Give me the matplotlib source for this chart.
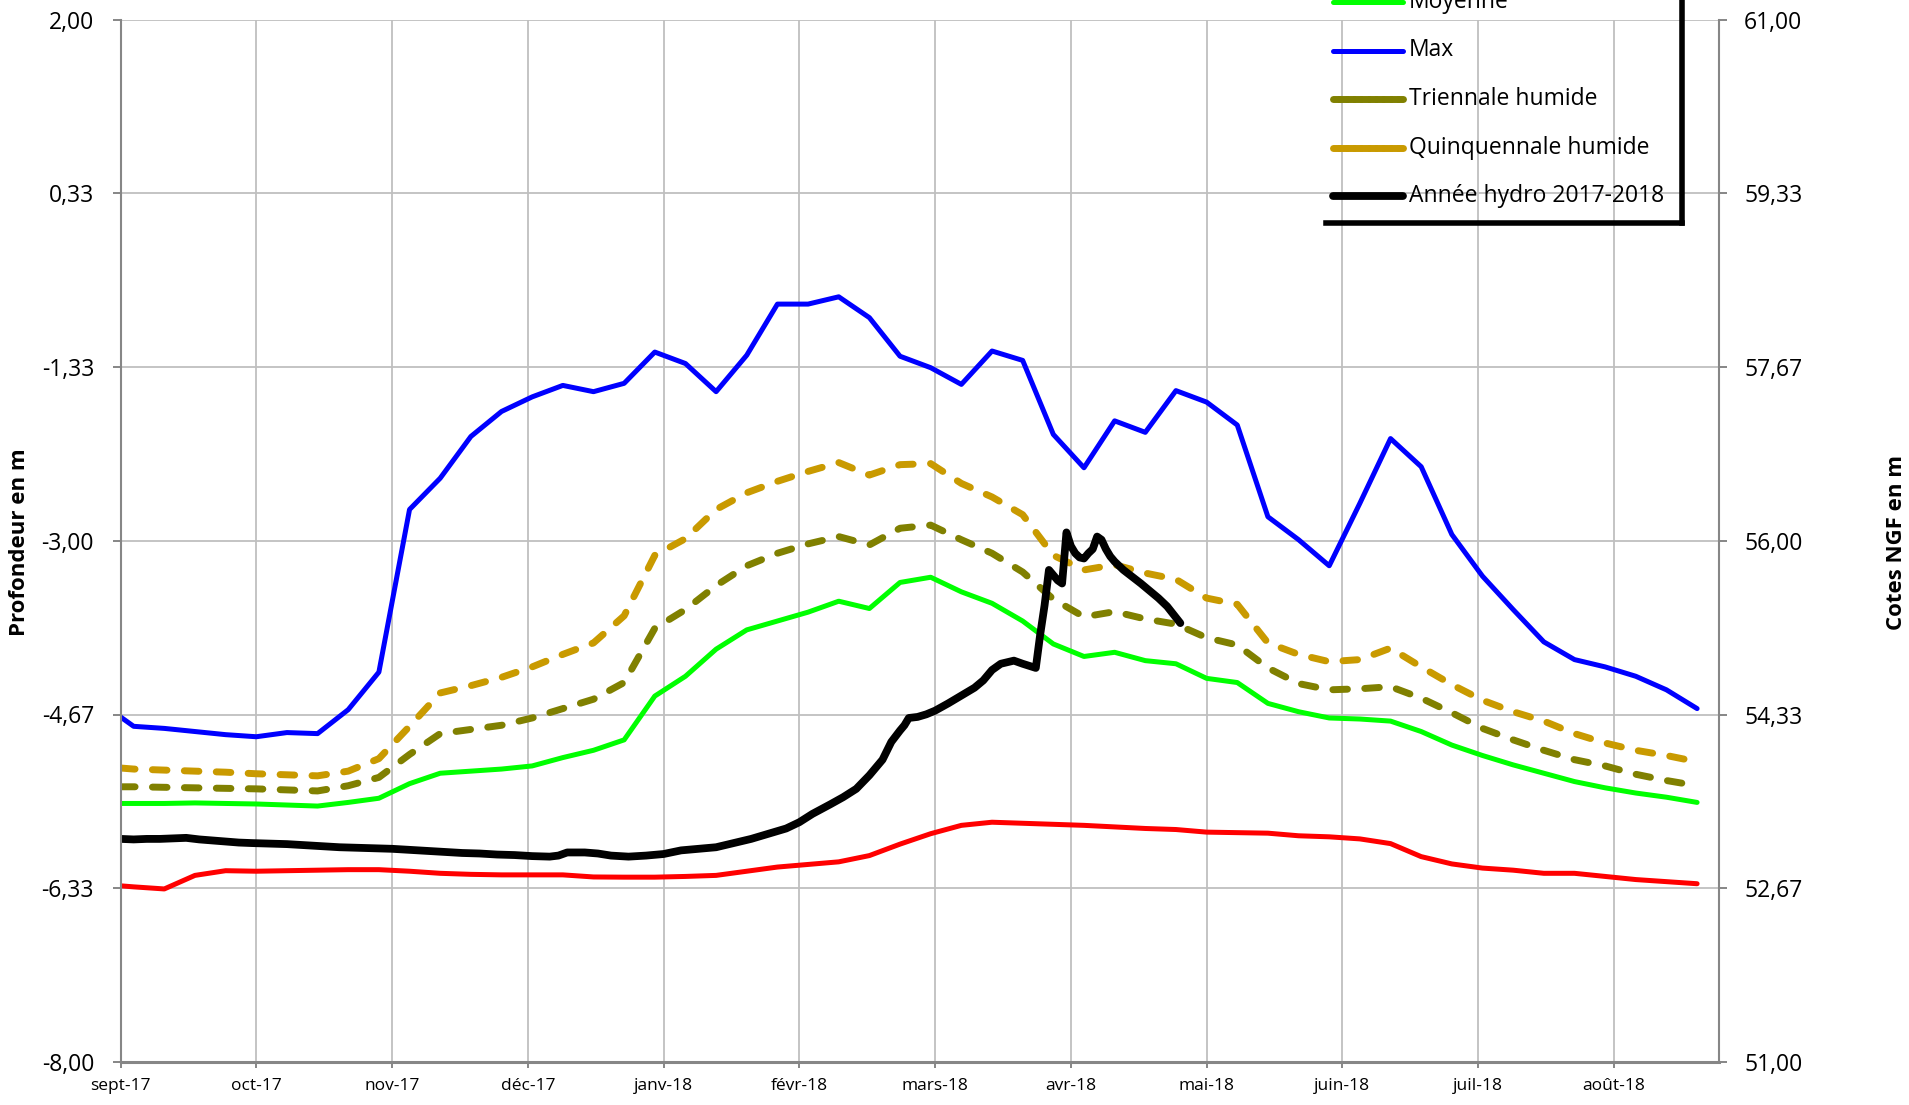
import matplotlib
matplotlib.use("Agg")
import matplotlib.pyplot as plt
from matplotlib.lines import Line2D

plt.rcParams['font.family'] = ['Open Sans', 'DejaVu Sans']
plt.rcParams['lines.scale_dashes'] = False

# ---------------- data ----------------
# day number counted from 1 Sept 2017
stat_days = [0, 3, 10, 17, 24, 31, 38, 45, 52, 59, 66, 73, 80, 87, 94, 101, 108, 115,
             122, 129, 136, 143, 150, 157, 164, 171, 178, 185, 192, 199, 206, 213, 220,
             227, 234, 241, 248, 255, 262, 269, 276, 283, 290, 297, 304, 311, 318, 325,
             332, 339, 346, 353, 360]

min_vals = [-6.31, -6.32, -6.34, -6.21, -6.165, -6.17, -6.165, -6.16, -6.155, -6.155,
            -6.17, -6.19, -6.20, -6.205, -6.205, -6.205, -6.225, -6.227, -6.227, -6.22,
            -6.21, -6.17, -6.13, -6.105, -6.08, -6.02, -5.91, -5.81, -5.73, -5.70,
            -5.71, -5.72, -5.73, -5.745, -5.76, -5.77, -5.795, -5.80, -5.805, -5.83,
            -5.84, -5.86, -5.905, -6.03, -6.10, -6.14, -6.16, -6.19, -6.19, -6.22,
            -6.25, -6.27, -6.29]

moy_vals = [-5.52, -5.52, -5.52, -5.515, -5.52, -5.525, -5.535, -5.545, -5.51, -5.47,
            -5.33, -5.23, -5.21, -5.19, -5.16, -5.08, -5.01, -4.91, -4.49, -4.30,
            -4.04, -3.855, -3.77, -3.685, -3.58, -3.65, -3.40, -3.35, -3.49, -3.60,
            -3.77, -3.99, -4.11, -4.07, -4.15, -4.18, -4.32, -4.36, -4.56, -4.64,
            -4.70, -4.71, -4.73, -4.83, -4.96, -5.06, -5.15, -5.23, -5.31, -5.37,
            -5.42, -5.46, -5.51]

max_vals = [-4.69, -4.78, -4.80, -4.83, -4.86, -4.88, -4.84, -4.85, -4.62, -4.26,
            -2.70, -2.40, -2.00, -1.76, -1.62, -1.51, -1.57, -1.49, -1.19, -1.30,
            -1.57, -1.22, -0.73, -0.73, -0.66, -0.86, -1.23, -1.34, -1.50, -1.18,
            -1.27, -1.98, -2.30, -1.85, -1.96, -1.56, -1.67, -1.89, -2.77, -2.99,
            -3.24, -2.64, -2.02, -2.29, -2.94, -3.34, -3.66, -3.97, -4.14, -4.21,
            -4.30, -4.43, -4.61]

tri_vals = [-5.36, -5.36, -5.365, -5.37, -5.375, -5.38, -5.39, -5.40, -5.35, -5.27,
            -5.05, -4.85, -4.81, -4.77, -4.70, -4.61, -4.52, -4.36, -3.84, -3.66,
            -3.43, -3.24, -3.12, -3.03, -2.96, -3.04, -2.88, -2.85, -2.99, -3.12,
            -3.30, -3.56, -3.73, -3.68, -3.75, -3.80, -3.93, -4.00, -4.22, -4.37,
            -4.43, -4.42, -4.40, -4.51, -4.65, -4.80, -4.91, -5.01, -5.10, -5.16,
            -5.24, -5.30, -5.35]

quin_vals = [-5.18, -5.19, -5.20, -5.21, -5.22, -5.235, -5.245, -5.255, -5.21, -5.09,
             -4.78, -4.46, -4.39, -4.31, -4.21, -4.09, -3.98, -3.72, -3.14, -2.98,
             -2.70, -2.54, -2.43, -2.335, -2.25, -2.37, -2.27, -2.26, -2.45, -2.58,
             -2.75, -3.14, -3.28, -3.23, -3.31, -3.37, -3.55, -3.61, -3.98, -4.09,
             -4.16, -4.14, -4.03, -4.21, -4.38, -4.53, -4.64, -4.73, -4.85, -4.94,
             -5.01, -5.06, -5.12]

annee_days = [0, 3, 6, 9, 12, 15, 18, 21, 24, 27, 30, 34, 38, 42, 46, 50, 54, 58, 62, 66,
              70, 74, 78, 82, 86, 90, 94, 98, 100, 102, 106, 109, 112, 116, 120, 124,
              128, 132, 136, 140, 144, 148, 152, 155, 158, 162, 165, 168, 171, 174, 176,
              178, 179, 180, 182, 184, 186, 189, 191, 193, 195, 197, 199, 201, 204, 206,
              209, 210, 211, 212, 213, 214, 215, 216, 217, 218, 219, 220, 221, 222, 223,
              224, 225, 226, 227, 229, 233, 237, 239, 242]
annee_vals = [-5.86, -5.865, -5.86, -5.86, -5.855, -5.85, -5.865, -5.875, -5.885, -5.895,
              -5.90, -5.905, -5.91, -5.92, -5.93, -5.94, -5.945, -5.95, -5.955, -5.965,
              -5.975, -5.985, -5.995, -6.00, -6.01, -6.015, -6.025, -6.03, -6.02, -5.99,
              -5.99, -6.00, -6.02, -6.03, -6.02, -6.005, -5.97, -5.955, -5.94, -5.90,
              -5.86, -5.81, -5.76, -5.70, -5.62, -5.53, -5.46, -5.38, -5.25, -5.10,
              -4.93, -4.82, -4.77, -4.70, -4.69, -4.665, -4.63, -4.56, -4.51, -4.46,
              -4.41, -4.34, -4.24, -4.18, -4.15, -4.18, -4.22, -3.90, -3.62, -3.28,
              -3.33, -3.38, -3.41, -2.92, -3.05, -3.12, -3.16, -3.17, -3.12, -3.08,
              -2.96, -2.99, -3.08, -3.15, -3.20, -3.28, -3.41, -3.55, -3.63, -3.79]

month_ticks = [0, 31, 62, 93, 124, 155, 186, 217, 248, 279, 310, 341]
month_labels = ['sept-17', 'oct-17', 'nov-17', 'déc-17', 'janv-18', 'févr-18',
                'mars-18', 'avr-18', 'mai-18', 'juin-18', 'juil-18', 'août-18']
left_ticks = [2.0, 2.0 - 10 / 6, 2.0 - 20 / 6, -3.0, -3.0 - 10 / 6, -3.0 - 20 / 6, -8.0]
ngf_offset = 59.0

# ---------------- figure ----------------
W, H = 1909, 1105
fig = plt.figure(figsize=(W / 100, H / 100), dpi=100)
x_l, x_r, y_t, y_b = 120.5, 1719.0, 19.5, 1062.0
ax = fig.add_axes([x_l / W, 1 - y_b / H, (x_r - x_l) / W, (y_b - y_t) / H])

grey = '#868686'
dash = (0, (10.5, 12.5))
common = dict(solid_joinstyle='round', solid_capstyle='round',
              dash_capstyle='round', dash_joinstyle='round')

series = [
    ('Min', min_vals, stat_days, '#FF0000', 3.6, '-'),
    ('Moyenne', moy_vals, stat_days, '#00FF00', 3.6, '-'),
    ('Max', max_vals, stat_days, '#0000FF', 3.6, '-'),
    ('Triennale humide', tri_vals, stat_days, '#808000', 5.0, dash),
    ('Quinquennale humide', quin_vals, stat_days, '#C99A00', 5.0, dash),
    ('Année hydro 2017-2018', annee_vals, annee_days, '#000000', 5.6, '-'),
]
handles = []
for name, vals, dd, col, lw, ls in series:
    ln, = ax.plot(dd, vals, color=col, lw=lw, linestyle=ls, label=name, **common)
    handles.append(ln)

ax.set_xlim(0, 365)
ax.set_ylim(-8, 2)
ax.set_xticks(month_ticks)
ax.set_xticklabels(month_labels, fontsize=12.5)
ax.set_yticks(left_ticks)
ax.set_yticklabels([f"{v:.2f}".replace('.', ',') for v in left_ticks], fontsize=16.5)
ax.grid(True, color='#BFBFBF', lw=1.3)
ax.set_axisbelow(True)
for s in ['top', 'right']:
    ax.spines[s].set_visible(False)
ax.spines['left'].set_color(grey)
ax.spines['left'].set_linewidth(1.5)
ax.spines['bottom'].set_color(grey)
ax.spines['bottom'].set_linewidth(2.2)
ax.tick_params(axis='y', direction='out', length=6, width=1.4, color=grey, pad=13)
ax.tick_params(axis='x', direction='out', length=4.5, width=1.4, color=grey, pad=7)

ax2 = ax.twinx()
ax2.set_ylim(-8 + ngf_offset, 2 + ngf_offset)
rt = [v + ngf_offset for v in left_ticks]
ax2.set_yticks(rt)
ax2.set_yticklabels([f"{v:.2f}".replace('.', ',') for v in rt], fontsize=16.5)
for s in ['top', 'left', 'bottom']:
    ax2.spines[s].set_visible(False)
ax2.spines['right'].set_color(grey)
ax2.spines['right'].set_linewidth(1.5)
ax2.tick_params(axis='y', direction='out', length=6, width=1.4, color=grey, pad=12)

fig.text(19.5 / W, 1 - 542 / H, 'Profondeur en m', rotation=90, ha='center', va='center',
         fontsize=16, fontweight='bold')
fig.text(1896 / W, 1 - 542 / H, 'Cotes NGF en m', rotation=90, ha='center', va='center',
         fontsize=16, fontweight='bold')

# ---------------- legend (partly outside the visible canvas, as in the source) ----------------
leg_y = [-46, 2, 50.5, 99, 147.5, 196]
for h, yc in zip(handles, leg_y):
    yf = 1 - yc / H
    fig.add_artist(Line2D([1333 / W, 1403 / W], [yf, yf], transform=fig.transFigure,
                          color=h.get_color(), lw=h.get_linewidth(),
                          linestyle=h.get_linestyle(), **common))
    fig.text(1409 / W, yf, h.get_label(), ha='left', va='center', fontsize=16.5)
# legend frame : thick right and bottom edges
fig.add_artist(Line2D([1682 / W, 1682 / W], [1.01, 1 - 223 / H], transform=fig.transFigure,
                      color='black', lw=4.0, solid_capstyle='projecting'))
fig.add_artist(Line2D([1326 / W, 1682 / W], [1 - 223 / H, 1 - 223 / H],
                      transform=fig.transFigure, color='black', lw=4.0,
                      solid_capstyle='projecting'))

fig.savefig('out.png', dpi=100)
